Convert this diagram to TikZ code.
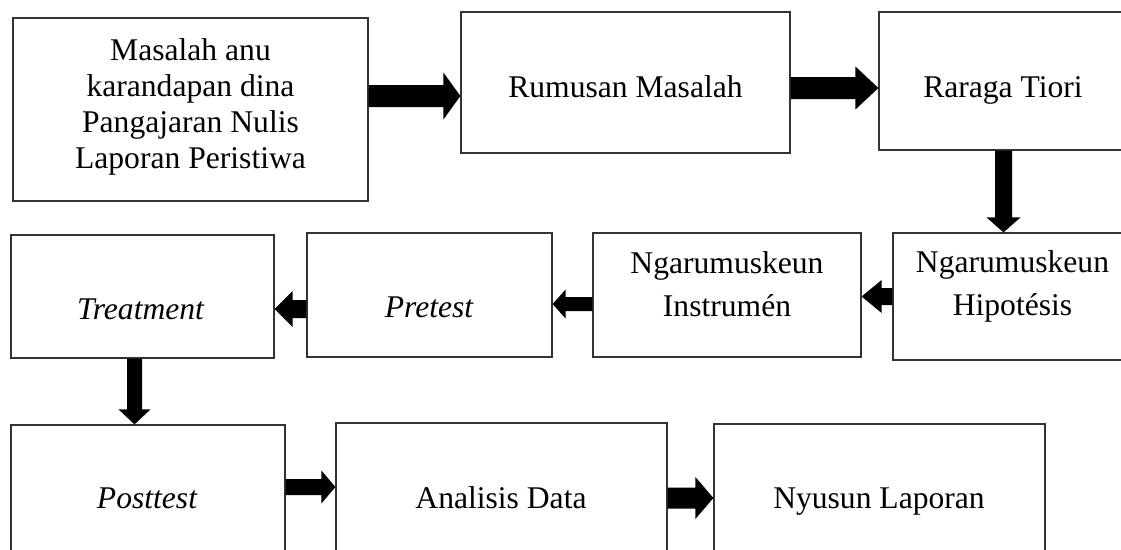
\documentclass[tikz,border=0pt]{standalone}
\usepackage{fontspec}
\setmainfont{Liberation Serif}
\usetikzlibrary{calc}
% block arrow: #1 from, #2 to (tip), #3 shaft half width, #4 head half width, #5 head length
\newcommand\blockarrow[5]{%
  \fill[arrowfill] let \p1=(#1), \p2=(#2),
    \n1={veclen(\x2-\x1,\y2-\y1)},
    \n2={(\x2-\x1)/\n1}, \n3={(\y2-\y1)/\n1}, \n4={\n1-#5} in
    ({\x1-#3*\n3},{\y1+#3*\n2})
    -- ({\x1+\n4*\n2-#3*\n3},{\y1+\n4*\n3+#3*\n2})
    -- ({\x1+\n4*\n2-#4*\n3},{\y1+\n4*\n3+#4*\n2})
    -- (\p2)
    -- ({\x1+\n4*\n2+#4*\n3},{\y1+\n4*\n3-#4*\n2})
    -- ({\x1+\n4*\n2+#3*\n3},{\y1+\n4*\n3-#3*\n2})
    -- ({\x1+#3*\n3},{\y1-#3*\n2}) -- cycle;}
\begin{document}
\begin{tikzpicture}[x=1pt,y=-1pt,
  box/.style={draw=black!80, line width=1.2pt, inner sep=0pt, rectangle},
  arrowfill/.style={fill=black},
  txt/.style={inner sep=0pt, font=\fontsize{31.6}{36}\selectfont, align=center},
  txttwo/.style={inner sep=0pt, font=\fontsize{31.6}{43}\selectfont, align=center}]
\useasboundingbox (0,0) rectangle (1121,549);
\clip (0,0) rectangle (1121,549);

% boxes
\node[box, minimum width=355pt, minimum height=183pt] (m) at (190.5,109.5) {};
\node[box, minimum width=329pt, minimum height=141pt] (r) at (625.5,82.5) {};
\node[box, minimum width=248pt, minimum height=138pt] (t) at (1003,81) {};
\node[box, minimum width=238pt, minimum height=127pt] (h) at (1012,296.5) {};
\node[box, minimum width=268pt, minimum height=124pt] (i) at (727,295) {};
\node[box, minimum width=245pt, minimum height=124pt] (p) at (429.5,295) {};
\node[box, minimum width=263pt, minimum height=123pt] (tr) at (142.5,296.5) {};
\node[box, minimum width=274pt, minimum height=160pt] (po) at (148,505) {};
\node[box, minimum width=331pt, minimum height=160pt] (a) at (501.5,503) {};
\node[box, minimum width=331pt, minimum height=160pt] (n) at (879.5,504) {};

% texts
\node[txt] (mT) at (190.5,106.5) {Masalah anu\\karandapan dina\\Pangajaran Nulis\\Laporan Peristiwa};
\node[txt, anchor=base] (rT) at (625.5,97) {Rumusan Masalah};
\node[txt, anchor=base] (tT) at (1003,97) {Raraga Tiori};
\node[txttwo] (hT) at (1012.5,286.6) {Ngarumuskeun\\Hipotésis};
\node[txttwo] (iT) at (727,283.7) {Ngarumuskeun\\Instrumén};
\node[txt, anchor=base] (pT) at (429,317) {\itshape Pretest};
\node[txt, anchor=base] (trT) at (140.5,319) {\itshape Treatment};
\node[txt, anchor=base] (poT) at (147,508) {\itshape Posttest};
\node[txt, anchor=base] (aT) at (501,508) {Analisis Data};
\node[txt, anchor=base] (nT) at (879,508) {Nyusun Laporan};

% connectors
\blockarrow{m.east |- 0,96}{r.west |- 0,96}{11}{23.5}{17}
\blockarrow{r.east |- 0,88}{t.west |- 0,88}{11}{21.5}{23}
\blockarrow{t.south -| 1003.5,0}{h.north -| 1003.5,0}{8.5}{17}{15}
\blockarrow{h.west |- 0,296.5}{i.east |- 0,296.5}{8.5}{16.5}{20}
\blockarrow{i.west |- 0,304}{p.east |- 0,304}{7}{14.5}{13}
\blockarrow{p.west |- 0,309}{tr.east |- 0,309}{9}{18}{18}
\blockarrow{tr.south -| 134.5,0}{po.north -| 134.5,0}{7.5}{16}{15}
\blockarrow{po.east |- 0,487}{a.west |- 0,487}{8}{16.5}{14}
\blockarrow{a.east |- 0,498}{n.west |- 0,498}{10.5}{21}{18}
\end{tikzpicture}
\end{document}
